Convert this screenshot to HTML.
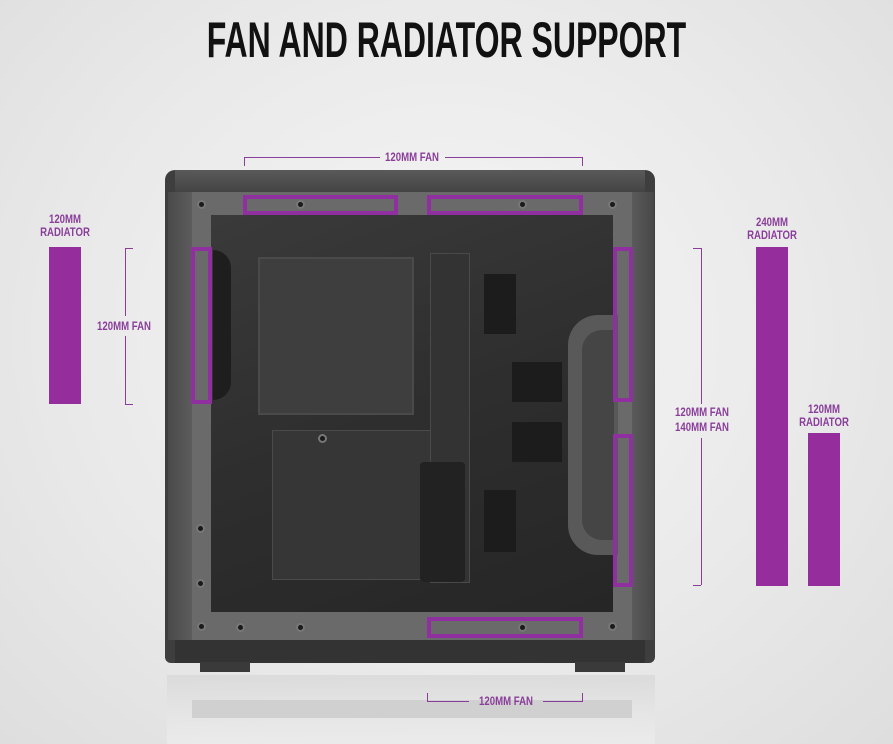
<!DOCTYPE html>
<html><head><style>
body{margin:0;width:893px;height:744px;overflow:hidden;position:relative;background:radial-gradient(ellipse at 50% 45%,#f6f6f6 0%,#e9e9e9 60%,#dedede 100%);font-family:"Liberation Sans",sans-serif}
div{position:absolute;box-sizing:border-box}
.p{border:4px solid #9030a0}
.f{background:#962d9c}
.t{color:#8a3e9a;font-weight:bold;font-size:12px;line-height:13px;text-align:center;white-space:nowrap;transform:scaleX(.8)}
.l{background:#8a3e9a}
.s{width:9px;height:9px;border-radius:50%;background:#1a1a1a;border:2px solid #777}
</style></head><body>
<div style="left:0;top:12px;width:893px;text-align:center;font-weight:bold;font-size:50px;line-height:56px;color:#111;transform:scaleX(0.64)">FAN AND RADIATOR SUPPORT</div>

<!-- reflection -->
<div style="left:167px;top:675px;width:488px;height:69px;background:linear-gradient(#d8d8d8,#e6e6e6 60%,#ececec);opacity:.8"></div>
<div style="left:192px;top:700px;width:440px;height:18px;background:#d0d0d0"></div>

<!-- case -->
<div style="left:165px;top:170px;width:490px;height:493px;background:#3e3e3e;border-radius:10px 10px 6px 6px"></div>
<div style="left:175px;top:170px;width:470px;height:22px;background:linear-gradient(#5a5a5a,#444)"></div>
<div style="left:168px;top:192px;width:24px;height:448px;background:linear-gradient(90deg,#4a4a4a,#5c5c5c)"></div>
<div style="left:632px;top:192px;width:22px;height:448px;background:linear-gradient(90deg,#5a5a5a,#484848)"></div>
<div style="left:192px;top:192px;width:440px;height:448px;background:#6a6a6a"></div>
<div style="left:211px;top:215px;width:402px;height:397px;background:linear-gradient(160deg,#3a3a3a,#2e2e2e 50%,#262626)"></div>
<div style="left:258px;top:257px;width:156px;height:158px;background:#3e3e3e;border:2px solid #4a4a4a"></div>
<div style="left:272px;top:430px;width:165px;height:150px;background:#363636;border:1px solid #4a4a4a"></div>
<div style="left:430px;top:253px;width:40px;height:330px;background:#333;border:1px solid #4a4a4a"></div>
<div style="left:484px;top:274px;width:32px;height:60px;background:#1c1c1c"></div>
<div style="left:512px;top:362px;width:50px;height:40px;background:#1c1c1c"></div>
<div style="left:512px;top:422px;width:50px;height:40px;background:#1c1c1c"></div>
<div style="left:484px;top:490px;width:32px;height:62px;background:#1c1c1c"></div>
<div style="left:420px;top:462px;width:45px;height:120px;background:#222;border-radius:4px"></div>
<div style="left:568px;top:315px;width:50px;height:240px;background:#595959;border-radius:30px 0 0 30px"></div>
<div style="left:582px;top:330px;width:32px;height:210px;background:#454545;border-radius:20px 0 0 20px"></div>
<div style="left:213px;top:250px;width:18px;height:150px;background:#1e1e1e;border-radius:0 20px 20px 0"></div>
<div style="left:175px;top:640px;width:470px;height:23px;background:#333"></div>
<div style="left:200px;top:662px;width:50px;height:10px;background:#3a3a3a"></div>
<div style="left:575px;top:662px;width:50px;height:10px;background:#3a3a3a"></div>

<div class="s" style="left:197px;top:200px"></div><div class="s" style="left:608px;top:200px"></div>
<div class="s" style="left:197px;top:622px"></div><div class="s" style="left:608px;top:622px"></div>
<div class="s" style="left:296px;top:200px"></div><div class="s" style="left:518px;top:200px"></div>
<div class="s" style="left:236px;top:623px"></div><div class="s" style="left:296px;top:623px"></div><div class="s" style="left:518px;top:623px"></div>
<div class="s" style="left:196px;top:524px"></div><div class="s" style="left:196px;top:579px"></div>
<div class="s" style="left:318px;top:434px"></div>

<!-- purple outlines -->
<div class="p" style="left:243px;top:195px;width:155px;height:20px"></div>
<div class="p" style="left:427px;top:195px;width:156px;height:20px"></div>
<div class="p" style="left:191px;top:247px;width:21px;height:157px"></div>
<div class="p" style="left:613px;top:247px;width:20px;height:155px"></div>
<div class="p" style="left:613px;top:434px;width:20px;height:153px"></div>
<div class="p" style="left:427px;top:617px;width:156px;height:21px"></div>

<!-- bars -->
<div class="f" style="left:49px;top:247px;width:32px;height:157px"></div>
<div class="f" style="left:756px;top:247px;width:32px;height:339px"></div>
<div class="f" style="left:808px;top:433px;width:32px;height:153px"></div>

<div class="t" style="left:25px;top:213px;width:80px">120MM<br>RADIATOR</div>
<div class="t" style="left:732px;top:216px;width:80px">240MM<br>RADIATOR</div>
<div class="t" style="left:784px;top:403px;width:80px">120MM<br>RADIATOR</div>

<!-- dimension lines -->
<div class="l" style="left:244px;top:157px;width:136px;height:1px"></div>
<div class="l" style="left:445px;top:157px;width:138px;height:1px"></div>
<div class="l" style="left:244px;top:157px;width:1px;height:9px"></div>
<div class="l" style="left:582px;top:157px;width:1px;height:9px"></div>
<div class="t" style="left:372px;top:151px;width:80px">120MM FAN</div>

<div class="l" style="left:125px;top:248px;width:1px;height:68px"></div>
<div class="l" style="left:125px;top:336px;width:1px;height:68px"></div>
<div class="l" style="left:125px;top:248px;width:8px;height:1px"></div>
<div class="l" style="left:125px;top:404px;width:8px;height:1px"></div>
<div class="t" style="left:84px;top:320px;width:80px">120MM FAN</div>

<div class="l" style="left:701px;top:248px;width:1px;height:156px"></div>
<div class="l" style="left:701px;top:438px;width:1px;height:147px"></div>
<div class="l" style="left:693px;top:248px;width:8px;height:1px"></div>
<div class="l" style="left:693px;top:585px;width:8px;height:1px"></div>
<div class="t" style="left:662px;top:405px;width:80px;line-height:15px">120MM FAN<br>140MM FAN</div>

<div class="l" style="left:427px;top:701px;width:42px;height:1px"></div>
<div class="l" style="left:543px;top:701px;width:40px;height:1px"></div>
<div class="l" style="left:427px;top:693px;width:1px;height:9px"></div>
<div class="l" style="left:582px;top:693px;width:1px;height:9px"></div>
<div class="t" style="left:466px;top:695px;width:80px">120MM FAN</div>
</body></html>
